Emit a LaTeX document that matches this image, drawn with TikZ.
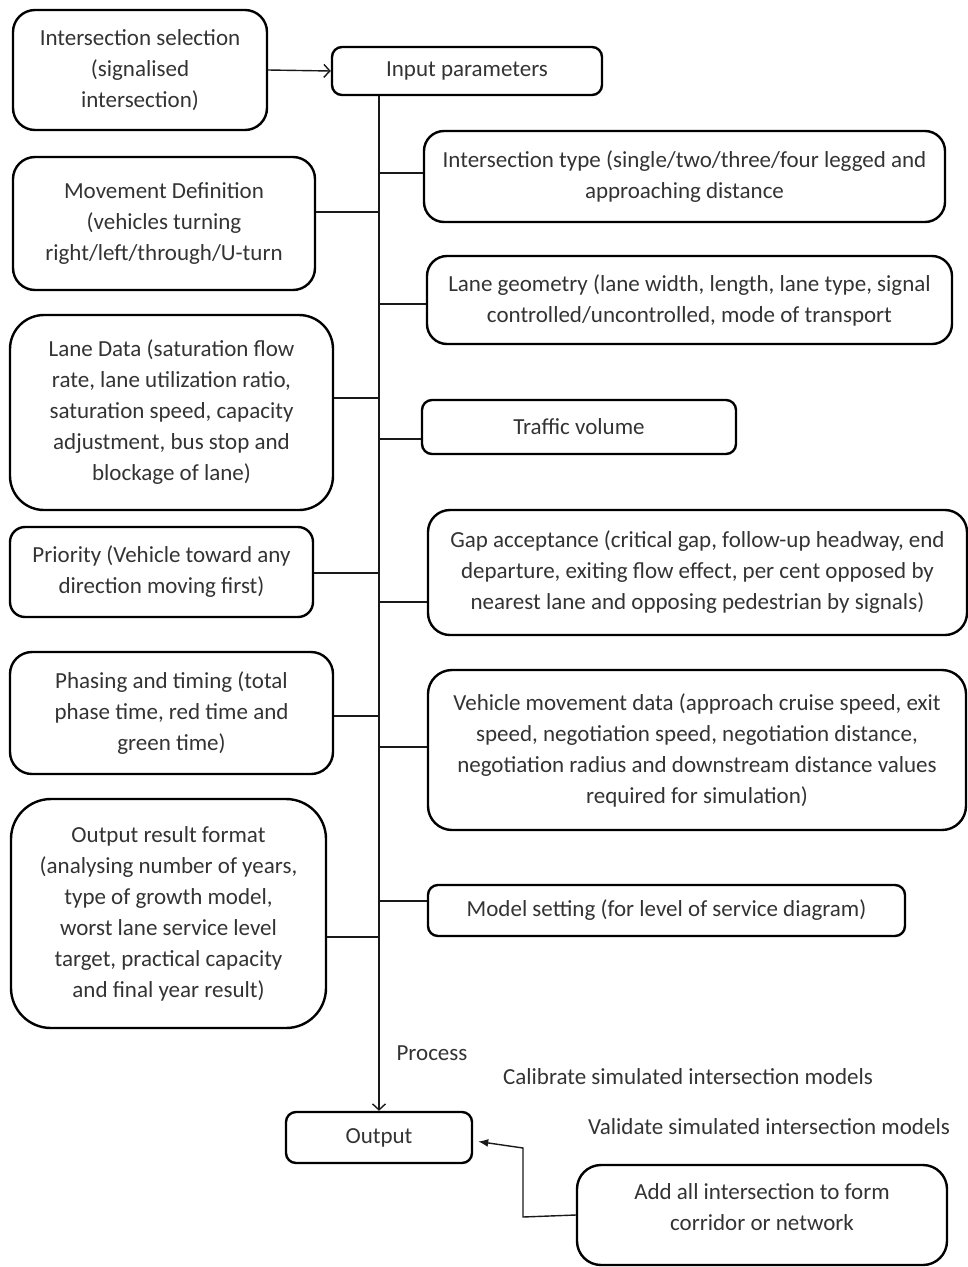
\documentclass[tikz,border=0pt]{standalone}
\usepackage{fontspec}
\setmainfont{Carlito}
\usetikzlibrary{arrows.meta}
\tikzset{
  box/.style={draw=black, line width=2.4pt, align=center, inner sep=0pt, text=black!80,
    font=\fontsize{23}{31}\selectfont},
  conn/.style={draw=black!90, line width=1.4pt},
  lbl/.style={text=black!80, font=\fontsize{23}{31}\selectfont, inner sep=0pt},
}
\begin{document}
\begin{tikzpicture}[x=1pt,y=-1pt]
\useasboundingbox (0,0) rectangle (968,1267);
% left column
\node[box, rounded corners=22pt, minimum width=254pt, minimum height=120pt] (sel) at (140,70)
  {Intersection selection\\(signalised\\intersection)};
\node[box, rounded corners=10pt, minimum width=270pt, minimum height=48pt] (inp) at (467,71)
  {Input parameters};
\node[box, rounded corners=22pt, minimum width=302pt, minimum height=133pt] (mov) at (164,223.5)
  {Movement Definition\\(vehicles turning\\right/left/through/U-turn};
\node[box, rounded corners=34pt, minimum width=323pt, minimum height=195pt] (lane) at (171.5,412.5)
  {Lane Data (saturation flow\\rate, lane utilization ratio,\\saturation speed, capacity\\adjustment, bus stop and\\blockage of lane)};
\node[box, rounded corners=15pt, minimum width=303pt, minimum height=90pt] (prio) at (161.5,572)
  {Priority (Vehicle toward any\\direction moving first)};
\node[box, rounded corners=22pt, minimum width=323pt, minimum height=122pt] (phase) at (171.5,713)
  {Phasing and timing (total\\phase time, red time and\\green time)};
\node[box, rounded corners=40pt, minimum width=315pt, minimum height=229pt] (outfmt) at (168.5,913.5)
  {Output result format\\(analysing number of years,\\type of growth model,\\worst lane service level\\target, practical capacity\\and final year result)};
% right column
\node[box, rounded corners=20pt, minimum width=521pt, minimum height=91pt] (itype) at (684.5,176.5)
  {Intersection type (single/two/three/four legged and\\approaching distance};
\node[box, rounded corners=20pt, minimum width=525pt, minimum height=88pt] (geom) at (689.5,300)
  {Lane geometry (lane width, length, lane type, signal\\controlled/uncontrolled, mode of transport};
\node[box, rounded corners=10pt, minimum width=314pt, minimum height=54pt] (traffic) at (579,427)
  {Traffic volume};
\node[box, rounded corners=22pt, minimum width=539pt, minimum height=125pt] (gap) at (697.5,572.5)
  {Gap acceptance (critical gap, follow-up headway, end\\departure, exiting flow effect, per cent opposed by\\nearest lane and opposing pedestrian by signals)};
\node[box, rounded corners=24pt, minimum width=538pt, minimum height=160pt] (veh) at (697,750)
  {Vehicle movement data (approach cruise speed, exit\\speed, negotiation speed, negotiation distance,\\negotiation radius and downstream distance values\\required for simulation)};
\node[box, rounded corners=10pt, minimum width=477pt, minimum height=51pt] (model) at (666.5,910.5)
  {Model setting (for level of service diagram)};
% bottom
\node[box, rounded corners=10pt, minimum width=186pt, minimum height=51pt] (output) at (379,1137.5)
  {Output};
\node[box, rounded corners=24pt, minimum width=370pt, minimum height=100pt,
  label={[lbl, align=center, yshift=8pt]center:Add all intersection to form\\corridor or network}] (add) at (762,1215) {};
\node[lbl] (process) at (432,1053) {Process};
\node[lbl] (calib) at (688,1077) {Calibrate simulated intersection models};
\node[lbl] (valid) at (769,1127) {Validate simulated intersection models};
% connectors
\draw[conn, -{Straight Barb[length=6pt,width=13pt]}] (sel.east) -- (inp.west);
\coordinate (ttop) at (inp.south -| output.north);
\draw[conn, -{Straight Barb[length=6pt,width=13pt]}] (ttop) -- (output.north);
\draw[conn] (itype.west |- 0,173) -- (ttop |- 0,173);
\draw[conn] (mov.east |- 0,212) -- (ttop |- 0,212);
\draw[conn] (geom.west |- 0,304) -- (ttop |- 0,304);
\draw[conn] (lane.east |- 0,398) -- (ttop |- 0,398);
\draw[conn] (traffic.west |- 0,439) -- (ttop |- 0,439);
\draw[conn] (prio.east |- 0,573) -- (ttop |- 0,573);
\draw[conn] (gap.west |- 0,602) -- (ttop |- 0,602);
\draw[conn] (phase.east |- 0,716) -- (ttop |- 0,716);
\draw[conn] (veh.west |- 0,747) -- (ttop |- 0,747);
\draw[conn] (model.west |- 0,901) -- (ttop |- 0,901);
\draw[conn] (outfmt.east |- 0,937) -- (ttop |- 0,937);
\coordinate (bend1) at (523,1217);
\coordinate (bend2) at (523,1148);
\draw[conn, -{Latex[length=10pt,width=8pt]}] (add.west) -- (bend1) -- (bend2) -- ([xshift=5pt,yshift=-4pt]output.east);
\end{tikzpicture}
\end{document}
